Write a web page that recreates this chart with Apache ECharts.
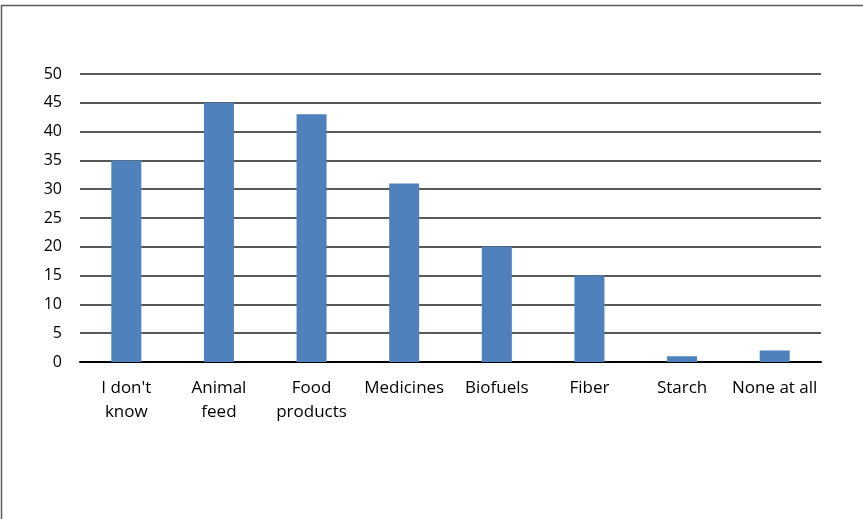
<!DOCTYPE html>
<html>
<head>
<meta charset="utf-8">
<script src="https://cdn.jsdelivr.net/npm/echarts@6/dist/echarts.min.js"></script>
<style>
  html, body { margin: 0; padding: 0; background: #fff; }
  #chart { width: 863px; height: 519px; }
</style>
</head>
<body>
<div id="chart"></div>
<script>
// Survey answers: which uses are known
const categories = ["I don't\nknow", "Animal\nfeed", "Food\nproducts", "Medicines", "Biofuels", "Fiber", "Starch", "None at all"];
const counts = [35, 45, 43, 31, 20, 15, 1, 2];
const yTicks = [0, 5, 10, 15, 20, 25, 30, 35, 40, 45, 50];

const chart = echarts.init(document.getElementById('chart'), null, { renderer: 'canvas' });
const font = "'Open Sans', 'Noto Sans', sans-serif";

chart.setOption({
  animation: false,
  backgroundColor: '#ffffff',
  textStyle: { fontFamily: font },
  graphic: [{
    type: 'rect',
    shape: { x: 1.5, y: 5.5, width: 900, height: 600 },
    style: { fill: 'none', stroke: '#5a5a5a', lineWidth: 1.5 },
    silent: true
  }],
  grid: { left: 80, right: 42, top: 74, bottom: 157, containLabel: false },
  xAxis: {
    type: 'category',
    data: categories,
    axisLine: { show: true, lineStyle: { color: '#000', width: 2 } },
    axisTick: { show: false },
    axisLabel: {
      color: '#000', fontSize: 17, fontFamily: font, lineHeight: 24, margin: 14,
      interval: 0
    }
  },
  yAxis: {
    type: 'value',
    min: yTicks[0],
    max: yTicks[yTicks.length - 1],
    interval: 5,
    axisLine: { show: false },
    axisTick: { show: false },
    axisLabel: { color: '#000', fontSize: 16, fontFamily: font, margin: 18 },
    splitLine: { show: true, lineStyle: { color: '#222', width: 1.5 } }
  },
  series: [{
    type: 'bar',
    data: counts,
    barWidth: 30,
    itemStyle: { color: '#4f81bd' },
    silent: true
  }]
});
</script>
</body>
</html>
